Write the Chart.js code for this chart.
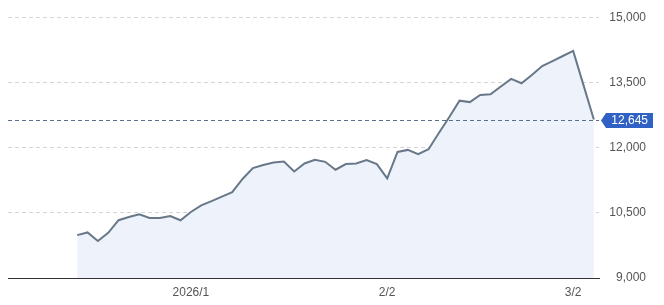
<!DOCTYPE html>
<html><head><meta charset="utf-8">
<script src="https://cdn.jsdelivr.net/npm/chart.js@4/dist/chart.umd.min.js"></script>
<style>html,body{margin:0;padding:0;background:#fff}#wrap{width:664px;height:305px}</style>
</head><body><div id="wrap"><canvas id="c" width="664" height="305"></canvas></div>
<script>
const dates = [
 '2025-12-16','2025-12-17','2025-12-18','2025-12-19','2025-12-22','2025-12-23','2025-12-24','2025-12-25','2025-12-26','2025-12-29','2025-12-30',
 '2026-01-05','2026-01-06','2026-01-07','2026-01-08','2026-01-09','2026-01-13','2026-01-14','2026-01-15','2026-01-16','2026-01-19','2026-01-20','2026-01-21','2026-01-22','2026-01-23','2026-01-26','2026-01-27','2026-01-28','2026-01-29','2026-01-30',
 '2026-02-02','2026-02-03','2026-02-04','2026-02-05','2026-02-06','2026-02-09','2026-02-10','2026-02-12','2026-02-13','2026-02-16','2026-02-17','2026-02-18','2026-02-19','2026-02-20','2026-02-24','2026-02-25','2026-02-26','2026-02-27',
 '2026-03-02','2026-03-03','2026-03-04'
];
const values = [
 9987,10048,9850,10039,10329,10404,10465,10381,10381,10427,10329,
 10518,10671,10769,10871,10974,11279,11530,11598,11657,11680,11452,11635,11719,11673,11491,11621,11635,11712,11621,
 11293,11901,11947,11849,11963,12334,12699,13079,13047,13210,13225,13405,13581,13481,13672,13877,13991,14107,
 14226,13437,12645
];
const tickDates = ['2026-01-05','2026-02-02','2026-03-02'];
const tickLabels = ['2026/1','2/2','3/2'];
const yTicks = [9000,10500,12000,13500,15000];

Chart.defaults.font.family = '"Liberation Sans", Arial, sans-serif';
Chart.defaults.font.size = 12;
Chart.defaults.color = '#555';

const lastValuePlugin = {
  id: 'lastValue',
  afterDatasetsDraw(chart) {
    const {ctx, chartArea: a, scales: {y}} = chart;
    const v = values[values.length - 1];
    const py = Math.round(y.getPixelForValue(v)) + 0.5;
    ctx.save();
    ctx.strokeStyle = '#5b6f8c';
    ctx.lineWidth = 1;
    ctx.setLineDash([4, 3]);
    ctx.beginPath(); ctx.moveTo(a.left, py); ctx.lineTo(a.right, py); ctx.stroke();
    ctx.setLineDash([]);
    const x0 = a.right + 2, h = 15, ar = 5, w = 47;
    ctx.fillStyle = '#2f62c4';
    ctx.beginPath();
    ctx.moveTo(x0, py);
    ctx.lineTo(x0 + ar, py - h / 2);
    ctx.lineTo(x0 + ar + w, py - h / 2);
    ctx.lineTo(x0 + ar + w, py + h / 2);
    ctx.lineTo(x0 + ar, py + h / 2);
    ctx.closePath(); ctx.fill();
    ctx.fillStyle = '#fff';
    ctx.font = '12px "Liberation Sans", Arial, sans-serif';
    ctx.textAlign = 'right'; ctx.textBaseline = 'middle';
    ctx.fillText(v.toLocaleString('en-US'), x0 + ar + w - 5, py + 0.5);
    ctx.restore();
  }
};

new Chart(document.getElementById('c'), {
  type: 'line',
  data: {
    datasets: [{
      data: values.map((v, i) => ({x: i, y: v})),
      borderColor: '#687889',
      borderWidth: 2,
      backgroundColor: '#edf2fb',
      fill: 'start',
      pointRadius: 0,
      tension: 0
    }]
  },
  options: {
    responsive: false,
    animation: false,
    devicePixelRatio: 1,
    layout: {padding: {top: 15, left: 8, right: 18, bottom: 0}},
    plugins: {legend: {display: false}, tooltip: {enabled: false}},
    scales: {
      x: {
        type: 'linear',
        min: -6.7, max: 50.5,
        grid: {display: false, drawTicks: false},
        border: {display: true, color: '#333', width: 1},
        afterBuildTicks: s => { s.ticks = tickDates.map(d => ({value: dates.indexOf(d)})); },
        ticks: {
          autoSkip: false, maxRotation: 0, padding: 7,
          callback: v => tickLabels[tickDates.indexOf(dates[v])]
        },
        afterFit: s => { s.height = 27; }
      },
      y: {
        position: 'right',
        min: 9000, max: 15000,
        afterBuildTicks: s => { s.ticks = yTicks.map(v => ({value: v})); },
        grid: {
          drawTicks: false,
          color: c => (c.tick && c.tick.value === 9000) ? 'rgba(0,0,0,0)' : '#d4d4d4'
        },
        border: {display: false, dash: [4, 3]},
        ticks: {
          crossAlign: 'far', padding: 10,
          callback: v => v.toLocaleString('en-US')
        },
        afterFit: s => { s.width = 47; }
      }
    }
  },
  plugins: [lastValuePlugin]
});
</script>
</body></html>
